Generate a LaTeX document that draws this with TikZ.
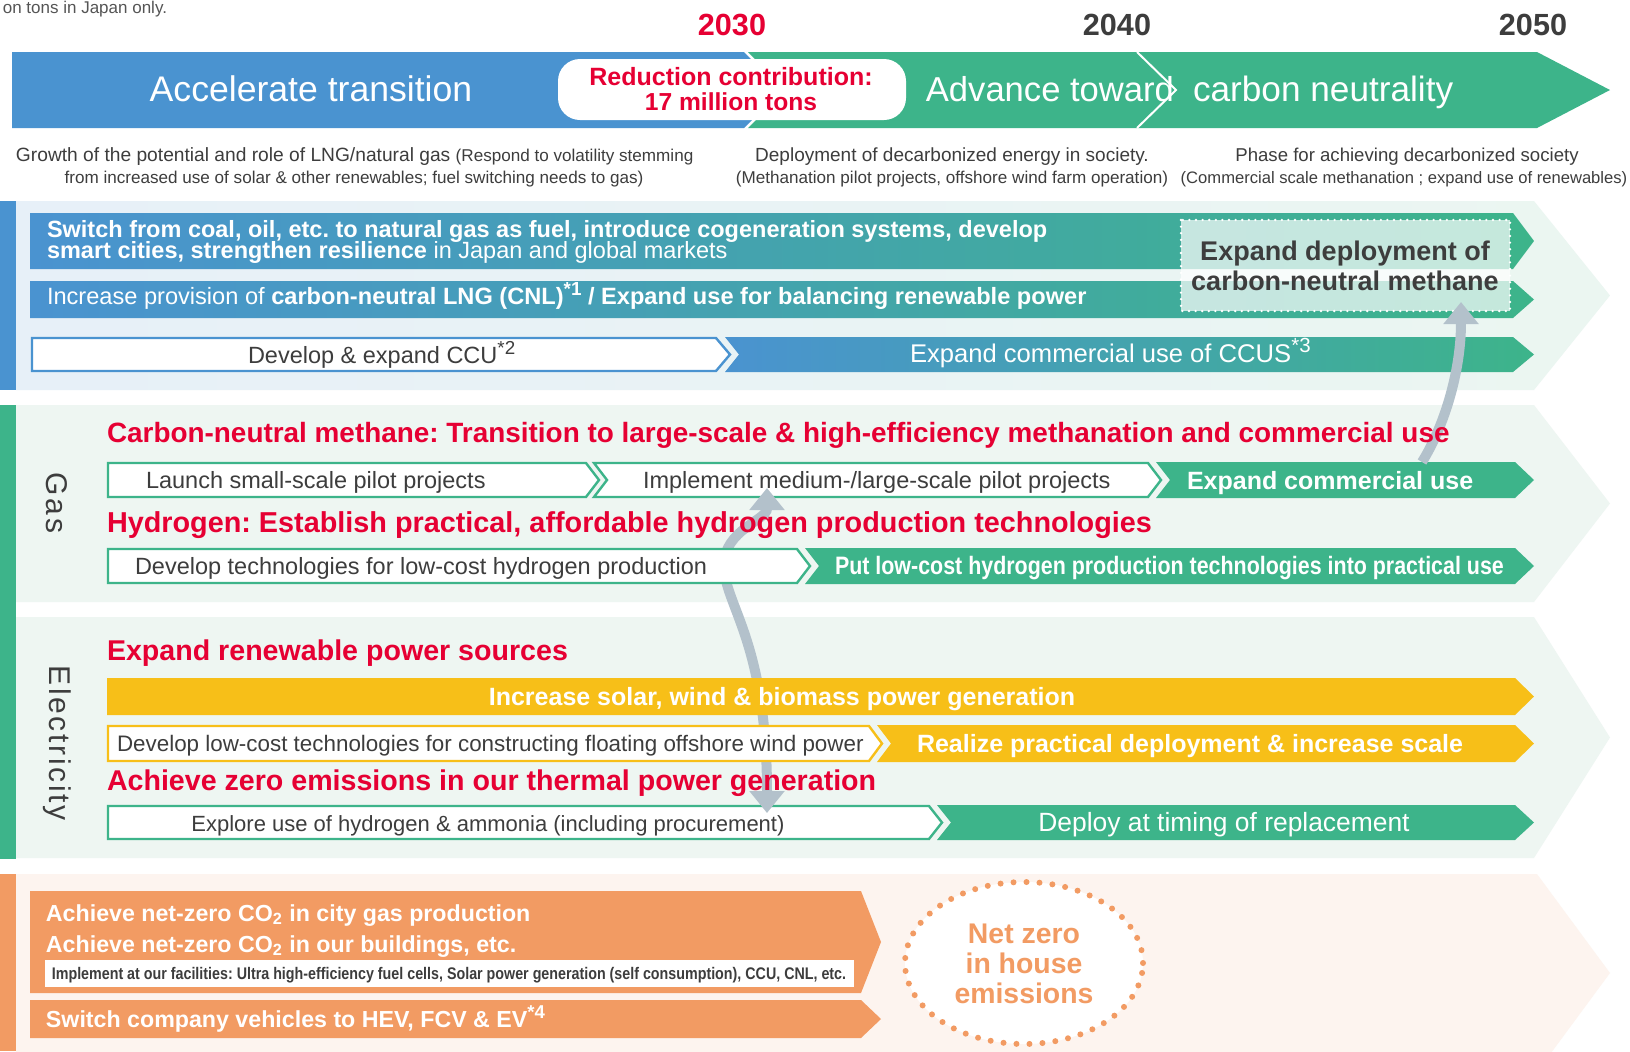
\documentclass[tikz,border=0pt]{standalone}
\usepackage{fontspec}
\setmainfont{Liberation Sans}
\newfontfamily\cond{Liberation Sans}[FakeStretch=0.85]
\newfontfamily\spaced{Liberation Sans}[LetterSpace=9]
\usetikzlibrary{arrows.meta}
\definecolor{cblue}{HTML}{4A93D0}
\definecolor{cgreen}{HTML}{3DB48A}
\definecolor{cred}{HTML}{E60033}
\definecolor{cyel}{HTML}{F7BF18}
\definecolor{corange}{HTML}{F29B63}
\definecolor{cdark}{HTML}{3D3D3D}
\definecolor{cnote}{HTML}{555555}
\definecolor{cgray}{HTML}{B3C1CB}
\definecolor{pblueL}{HTML}{E7F0F8}
\definecolor{pgreenL}{HTML}{EBF6F1}
\definecolor{pgas}{HTML}{EEF6F2}
\definecolor{ppeach}{HTML}{FDF4EF}
\newcommand\fs[1]{\fontsize{#1}{#1}\selectfont}
\newcommand\supx[1]{\raisebox{0.38em}{\scalebox{0.8}{#1}}}
\newcommand\rbar[6]{\path[#1] (#2,#3) -- (#4,#3) -- (#6,{(#3+#5)/2}) -- (#4,#5) -- (#2,#5) -- cycle;}
\newcommand\nbar[7]{\path[#1] (#2,#4) -- (#5,#4) -- (#7,{(#4+#6)/2}) -- (#5,#6) -- (#2,#6) -- (#3,{(#4+#6)/2}) -- cycle;}
\begin{document}
\frenchspacing
\begin{tikzpicture}[x=0.5pt,y=-0.5pt,
  txt/.style={inner sep=0pt,outer sep=0pt},
  grad/.style={left color=cblue,right color=cgreen},
  wb/.style={fill=white,line width=1.2pt,draw=#1},
  reg/.style={txt,font=\fs{11.75},text=cdark},
  boldw/.style={txt,font=\fs{12.5}\bfseries,text=white},
  head/.style={txt,anchor=base west,font=\fs{14.3}\bfseries,text=cred},
  garrow/.style={cgray,line width=5pt,{Triangle[width=17pt,length=11pt]}-{Triangle[width=17pt,length=11pt]}},
  garrowone/.style={cgray,line width=5pt,-{Triangle[width=17pt,length=11pt]}}]
\useasboundingbox (0,0) rectangle (1630,1051);
\clip (0,0) rectangle (1630,1051);
\fill[white] (0,0) rectangle (1630,1051);

% ---------- panels ----------
\fill[cblue] (0,201) rectangle (16,390);
\path[left color=pblueL,right color=pgreenL] (16,201) -- (1534,201) -- (1610,295.5) -- (1534,390) -- (16,390) -- cycle;
\fill[cgreen] (0,405) rectangle (16,859);
\fill[pgas] (16,405) -- (1534,405) -- (1610,503.5) -- (1534,602) -- (16,602) -- cycle;
\fill[pgas] (16,617) -- (1534,617) -- (1610,737.5) -- (1534,858) -- (16,858) -- cycle;
\fill[corange] (0,874) rectangle (16,1051);
\fill[ppeach] (16,874) -- (1537,874) -- (1610,973) -- (1537,1072) -- (16,1072) -- cycle;

% ---------- header ----------
\node[txt,anchor=base east,font=\fs{8.5},text=cnote] (note) at (167,13) {on tons in Japan only.};
\node[txt,anchor=base,font=\fs{15.3}\bfseries,text=cred] (y30) at (732,35) {2030};
\node[txt,anchor=base,font=\fs{15.3}\bfseries,text=cdark] (y40) at (1117,35) {2040};
\node[txt,anchor=base,font=\fs{15.3}\bfseries,text=cdark] (y50) at (1533,35) {2050};
\fill[cblue] (12,52) -- (744,52) -- (782,90) -- (744,128) -- (12,128) -- cycle;
\fill[cgreen] (748,52) -- (1537,52) -- (1610,90) -- (1537,128) -- (748,128) -- (786,90) -- cycle;
\draw[white,line width=1pt] (1137,52) -- (1176,90) -- (1137,128);
\fill[white,rounded corners=11pt] (558,59) rectangle (906,120);
\node[txt,anchor=base,font=\fs{17.8},text=white] (acc) at (311,101) {Accelerate transition};
\node[txt,anchor=base east,font=\fs{17.3},text=white] (adv1) at (1174,101) {Advance toward};
\node[txt,anchor=base west,font=\fs{17.6},text=white] (adv2) at (1193,101) {carbon neutrality};
\node[txt,anchor=base,font=\fs{12.5}\bfseries,text=cred] (red1) at (731,85) {Reduction contribution:};
\node[txt,anchor=base,font=\fs{12.3}\bfseries,text=cred] (red2) at (731,110) {17 million tons};

\node[txt,anchor=base west,font=\fs{9.6},text=cdark] (s1a) at (16,161) {Growth of the potential and role of LNG/natural gas {\fs{8.55}(Respond to volatility stemming}};
\node[txt,anchor=base,font=\fs{8.55},text=cdark] (s1b) at (354,183) {from increased use of solar \& other renewables; fuel switching needs to gas)};
\node[txt,anchor=base,font=\fs{9.5},text=cdark] (s2a) at (952,161) {Deployment of decarbonized energy in society.};
\node[txt,anchor=base,font=\fs{8.55},text=cdark] (s2b) at (952,183) {(Methanation pilot projects, offshore wind farm operation)};
\node[txt,anchor=base,font=\fs{9.3},text=cdark] (s3a) at (1407,161) {Phase for achieving decarbonized society};
\node[txt,anchor=base,font=\fs{8.3},text=cdark] (s3b) at (1404,183) {(Commercial scale methanation ; expand use of renewables)};

% ---------- section 1 ----------
\rbar{grad}{30}{213}{1513}{269}{1534}
\rbar{grad}{30}{281}{1513}{318}{1534}
\rbar{wb=cblue}{32}{338}{716}{371}{730}
\nbar{grad}{725}{739}{337}{1513}{372}{1534}
\node[txt,anchor=base west,font=\fs{11.75}\bfseries,text=white] (sw1) at (47,237) {Switch from coal, oil, etc. to natural gas as fuel, introduce cogeneration systems, develop};
\node[txt,anchor=base west,font=\fs{11.75},text=white] (sw2) at (47,258.5) {\bfseries smart cities, strengthen resilience\mdseries\ in Japan and global markets};
\node[txt,anchor=base west,font=\fs{11.8},text=white] (cnl) at (47,304) {Increase provision of \bfseries carbon-neutral LNG (CNL)\supx{*1} / Expand use for balancing renewable power};
\draw[white,fill=white,fill opacity=0.7,line width=1.3pt,dash pattern=on 0pt off 3.3pt,line cap=round] (1181,220) rectangle (1510,311);
\node[txt,anchor=base,font=\fs{13.5}\bfseries,text=cdark] (cnm1) at (1345,260) {Expand deployment of};
\node[txt,anchor=base,font=\fs{13.5}\bfseries,text=cdark] (cnm2) at (1345,290) {carbon-neutral methane};
\coordinate (cnmbot) at (1461,302);
\node[reg,anchor=base west] (ccu) at (248,363) {Develop \& expand CCU\supx{*2}};
\node[txt,anchor=base west,font=\fs{12.8},text=white] (ccus) at (910,362) {Expand commercial use of CCUS\supx{*3}};

% ---------- gas row 1 ----------
\rbar{wb=cgreen}{108}{463}{586}{497}{599}
\nbar{wb=cgreen}{594}{607}{463}{1148}{497}{1161}
\nbar{fill=cgreen}{1156}{1170}{462}{1515}{498}{1534}
\node[reg,anchor=base west] (launch) at (146,488) {Launch small-scale pilot projects};
\node[reg,anchor=base west] (impl) at (643,488) {Implement medium-/large-scale pilot projects};
\node[boldw,anchor=base west] (expc) at (1187,489) {Expand commercial use};
\coordinate (implbot) at (767,488);
\coordinate (expctop) at (1422,462);

% ---------- electricity row 3 ----------
\rbar{wb=cgreen}{108}{806}{929}{839}{942}
\nbar{fill=cgreen}{937}{951}{805}{1515}{840}{1534}
\node[reg,anchor=base,font=\fs{11}] (explore) at (488,831) {Explore use of hydrogen \& ammonia (including procurement)};
\node[txt,anchor=base,font=\fs{13.2},text=white] (deploy) at (1224,831) {Deploy at timing of replacement};
\coordinate (exptop) at (767,813);

% ---------- grey arrows ----------
\draw[garrow] (implbot) .. controls (767,520) and (724,530) .. (724,565) .. controls (724,605) and (767,640) .. (exptop);
\draw[garrowone] (expctop) .. controls (1445,425) and (1461,370) .. (cnmbot);

% ---------- gas headings and row 2 ----------
\node[head,font=\fs{13.95}\bfseries] (h1) at (107,442) {Carbon-neutral methane: Transition to large-scale \& high-efficiency methanation and commercial use};
\node[head,font=\fs{14.4}\bfseries] (h2) at (107,532) {Hydrogen: Establish practical, affordable hydrogen production technologies};
\rbar{wb=cgreen}{108}{549}{797}{583}{810}
\nbar{fill=cgreen}{805}{819}{548}{1515}{584}{1534}
\node[reg,anchor=base west] (devh) at (135,574) {Develop technologies for low-cost hydrogen production};
\node[txt,anchor=base west,font=\cond\fs{12.6}\bfseries,text=white] (putl) at (835,574) {Put low-cost hydrogen production technologies into practical use};

% ---------- electricity ----------
\node[head] (h3) at (107,660) {Expand renewable power sources};
\rbar{fill=cyel}{107}{678}{1515}{715}{1534}
\node[boldw,anchor=base] (solar) at (782,705) {Increase solar, wind \& biomass power generation};
\rbar{wb=cyel}{108}{726}{869}{761}{882}
\nbar{fill=cyel}{877}{891}{725}{1515}{762}{1534}
\node[reg,anchor=base west,font=\fs{11.2}] (float) at (117,751) {Develop low-cost technologies for constructing floating offshore wind power};
\node[boldw,anchor=base west] (real) at (917,752) {Realize practical deployment \& increase scale};
\node[head] (h4) at (107,790) {Achieve zero emissions in our thermal power generation};

% ---------- side labels ----------
\node[txt,rotate=-90,font=\spaced\fs{15},text=cdark] (gas) at (57,503) {Gas};
\node[txt,rotate=-90,font=\spaced\fs{15},text=cdark] (elec) at (57,743) {Electricity};

% ---------- bottom ----------
\rbar{fill=corange}{30}{891}{861}{993}{881}
\fill[white] (45,960) rectangle (854,987);
\rbar{fill=corange}{30}{1000}{861}{1038}{881}
\node[txt,anchor=base west,font=\fs{11.6}\bfseries,text=white] (nz1) at (46,921) {Achieve net-zero CO\textsubscript{2} in city gas production};
\node[txt,anchor=base west,font=\fs{11.6}\bfseries,text=white] (nz2) at (46,952) {Achieve net-zero CO\textsubscript{2} in our buildings, etc.};
\node[txt,anchor=base,font=\cond\fs{8.4}\bfseries,text=cdark] (impf) at (449,979) {Implement at our facilities: Ultra high-efficiency fuel cells, Solar power generation (self consumption), CCU, CNL, etc.};
\node[txt,anchor=base west,font=\fs{11.6}\bfseries,text=white] (veh) at (46,1027) {Switch company vehicles to HEV, FCV \& EV\supx{*4}};
\draw[corange,fill=white,line width=3pt,dash pattern=on 0pt off 6.5pt,line cap=round] (1024,963) ellipse [x radius=59.5pt,y radius=40.5pt];
\node[txt,anchor=base,font=\fs{14.2}\bfseries,text=corange] (nzA) at (1024,943) {Net zero};
\node[txt,anchor=base,font=\fs{14.2}\bfseries,text=corange] (nzB) at (1024,973) {in house};
\node[txt,anchor=base,font=\fs{14.2}\bfseries,text=corange] (nzC) at (1024,1003) {emissions};
\end{tikzpicture}
\end{document}
